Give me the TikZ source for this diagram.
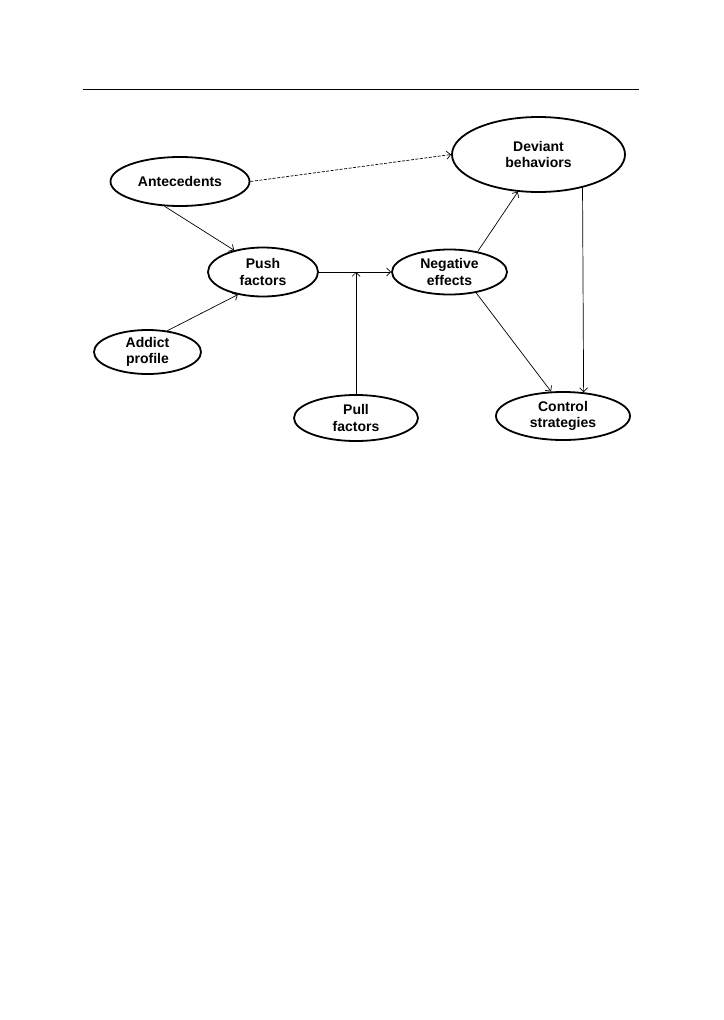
\documentclass[tikz,border=0pt]{standalone}
\usepackage{fontspec}
\setmainfont{Liberation Sans}
\usetikzlibrary{arrows.meta,shapes.geometric}
\begin{document}
\begin{tikzpicture}[x=1pt,y=-1pt,
  ell/.style={ellipse,draw,line width=1.8pt,inner sep=0pt,align=center,
    font=\fontsize{14}{16.5}\selectfont\bfseries},
  conn/.style={line width=0.7pt,-{Straight Barb[length=4pt,width=8pt]}},
  dashconn/.style={conn,dash pattern=on 3pt off 1.5pt}]
\useasboundingbox (0,0) rectangle (723,1020);
\draw[line width=0.9pt] (83,89) -- (639,89);
\node[ell,minimum width=139pt,minimum height=49pt] (ant) at (180,181.5) {Antecedents};
\node[ell,minimum width=110pt,minimum height=49pt] (push) at (263,272) {Push\\factors};
\node[ell,minimum width=107pt,minimum height=44pt] (add) at (147.5,352) {Addict\\profile};
\node[ell,minimum width=115pt,minimum height=45pt] (neg) at (449.5,272) {Negative\\effects};
\node[ell,minimum width=124pt,minimum height=46pt] (pull) at (356,418) {Pull\\factors};
\node[ell,minimum width=134pt,minimum height=48pt] (ctl) at (563,416) {Control\\strategies};
\node[ell,minimum width=173pt,minimum height=75pt] (dev) at (538.5,154.5) {Deviant\\behaviors};
\coordinate (j) at (356,272);
\draw[conn] (ant.238) -- (push.143);
\draw[conn] (add.47) -- (push.222);
\draw[conn] (push) -- (neg);
\draw[conn] (pull.north) -- (j);
\draw[dashconn] (ant.east) -- (dev.west);
\draw[conn] (neg.36) -- (dev.241);
\draw[conn] (neg.322) -- (ctl.116);
\draw[conn] (dev.323) -- (ctl.49);
\end{tikzpicture}
\end{document}
